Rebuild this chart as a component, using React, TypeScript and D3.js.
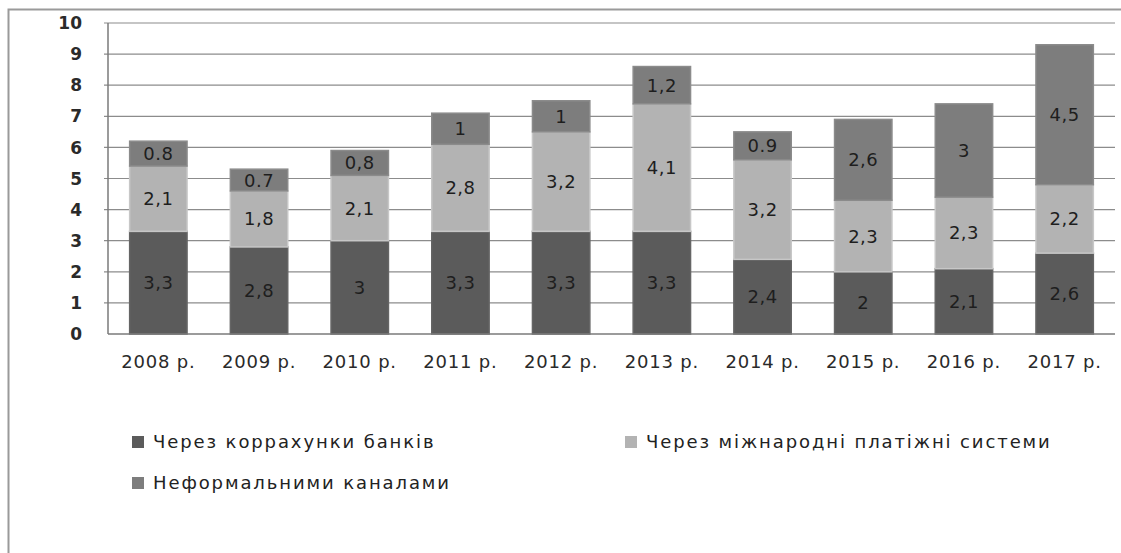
import { useEffect, useRef } from "react";
import * as d3 from "d3";

const years = ["2008 р.", "2009 р.", "2010 р.", "2011 р.", "2012 р.", "2013 р.", "2014 р.", "2015 р.", "2016 р.", "2017 р."];
const banks = [3.3, 2.8, 3, 3.3, 3.3, 3.3, 2.4, 2, 2.1, 2.6];
const systems = [2.1, 1.8, 2.1, 2.8, 3.2, 4.1, 3.2, 2.3, 2.3, 2.2];
const informal = [0.8, 0.7, 0.8, 1, 1, 1.2, 0.9, 2.6, 3, 4.5];
// labels as printed in the source (some use a dot)
const informalLabels = ["0.8", "0.7", "0,8", "1", "1", "1,2", "0.9", "2,6", "3", "4,5"];
const seriesNames = ["Через коррахунки банків", "Через міжнародні платіжні системи", "Неформальними каналами"];
const yTicks = [0, 1, 2, 3, 4, 5, 6, 7, 8, 9, 10];

const colors = ["#5b5b5b", "#b3b3b3", "#7d7d7d"];
const fmt = (v: number) => String(v).replace(".", ",");

export default function App() {
  const ref = useRef<SVGSVGElement>(null);

  useEffect(() => {
    const svg = d3.select(ref.current);
    svg.selectAll("*").remove();

    const left = 108, right = 1115, top = 23, bottom = 334;
    const x = d3.scaleBand().domain(years).range([left, right]).paddingInner(0.43).paddingOuter(0.215);
    const y = d3.scaleLinear().domain([0, 10]).range([bottom, top]);

    // outer frame
    svg.append("rect").attr("x", 8.5).attr("y", 9.5).attr("width", 1300).attr("height", 700)
      .attr("fill", "white").attr("stroke", "#9a9a9a").attr("stroke-width", 2);

    // grid
    svg.append("g").selectAll("line").data(yTicks.filter(t => t > 0)).join("line")
      .attr("x1", left - 4).attr("x2", right).attr("y1", d => y(d)).attr("y2", d => y(d))
      .attr("stroke", "#8c8c8c").attr("stroke-width", 1.2);

    svg.append("g").selectAll("text").data(yTicks).join("text")
      .attr("x", 82).attr("y", d => y(d)).attr("dy", "0.36em").attr("text-anchor", "end")
      .attr("font-family", "DejaVu Sans").attr("font-size", 17).attr("font-weight", "bold").attr("fill", "#2a2a2a")
      .text(d => d);

    const rows = years.map((yr, i) => ({ yr, banks: banks[i], systems: systems[i], informal: informal[i], i }));
    const stack = d3.stack<any>().keys(["banks", "systems", "informal"])(rows);

    stack.forEach((layer, k) => {
      const g = svg.append("g");
      g.selectAll("rect").data(layer).join("rect")
        .attr("x", d => x(d.data.yr)!).attr("width", x.bandwidth())
        .attr("y", d => y(d[1])).attr("height", d => y(d[0]) - y(d[1]))
        .attr("fill", colors[k]).attr("stroke", d3.color(colors[k])!.brighter(0.3).toString()).attr("stroke-width", 1.5);
      g.selectAll("text").data(layer).join("text")
        .attr("x", d => x(d.data.yr)! + x.bandwidth() / 2)
        .attr("y", d => (y(d[0]) + y(d[1])) / 2).attr("dy", "0.36em").attr("text-anchor", "middle")
        .attr("font-family", "DejaVu Sans").attr("font-size", 18).attr("letter-spacing", 0.5).attr("fill", "#1e1e1e")
        .text(d => k === 2 ? informalLabels[d.data.i] : fmt(k === 0 ? d.data.banks : d.data.systems));
    });

    // axis line
    svg.append("line").attr("x1", left).attr("x2", left).attr("y1", top).attr("y2", bottom)
      .attr("stroke", "#7a7a7a").attr("stroke-width", 1.5);
    svg.append("line").attr("x1", left).attr("x2", right).attr("y1", bottom).attr("y2", bottom)
      .attr("stroke", "#7a7a7a").attr("stroke-width", 1.5);

    svg.append("g").selectAll("text").data(years).join("text")
      .attr("x", d => x(d)! + x.bandwidth() / 2).attr("y", 368).attr("text-anchor", "middle")
      .attr("font-family", "DejaVu Sans").attr("font-size", 18).attr("letter-spacing", 0.8).attr("fill", "#2a2a2a")
      .text(d => d);

    // legend
    const legendPos = [[132, 442], [625, 442], [132, 483]];
    const lg = svg.append("g").selectAll("g").data(seriesNames).join("g")
      .attr("transform", (_, i) => `translate(${legendPos[i][0]},${legendPos[i][1]})`);
    lg.append("rect").attr("x", 0).attr("y", -6).attr("width", 12).attr("height", 12)
      .attr("fill", (_, i) => colors[i]);
    lg.append("text").attr("x", 21).attr("y", 0).attr("dy", "0.36em")
      .attr("font-family", "DejaVu Sans").attr("font-size", 18).attr("letter-spacing", 1.9).attr("fill", "#222")
      .text(d => d);
  }, []);

  return (
    <svg ref={ref} width={1121} height={553} style={{ position: "absolute", left: 0, top: 0, background: "white" }} />
  );
}
